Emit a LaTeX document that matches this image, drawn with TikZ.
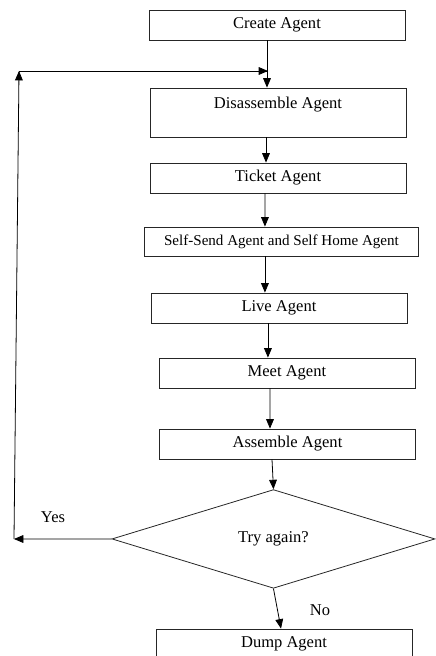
\documentclass[tikz,border=0pt]{standalone}
\usepackage{fontspec}
\setmainfont{Liberation Serif}
\usetikzlibrary{shapes.geometric, arrows}
\tikzstyle{process} = [rectangle, minimum width=192pt, minimum height=22.5pt, text centered, draw=black!85, line width=0.6pt, font=\fontsize{12.4}{14.5}\selectfont]
\tikzstyle{decision} = [diamond, aspect=3.3, minimum width=242.25pt, minimum height=74pt, inner sep=0pt, text centered, draw=black!85, line width=0.6pt, font=\fontsize{12.4}{14.5}\selectfont]
\tikzstyle{answer} = [font=\fontsize{12.4}{14.5}\selectfont]
\tikzstyle{arrow} = [line width=0.6pt,->,>=triangle 45]

\begin{document}
\begin{tikzpicture}[node distance=49pt]
\useasboundingbox (0,0) rectangle (326.25pt,-492pt);

\node (create) [process] at (207.75pt,-18.75pt) {Create Agent};
\node (disassemble) [process, below of=create, node distance=65.6pt, xshift=0.75pt, minimum height=36.75pt, align=center] {Disassemble Agent\\ \mbox{}};
\node (ticket) [process, below of=disassemble, node distance=49.1pt] {Ticket Agent};
\node (selfsend) [process, below of=ticket, node distance=47.6pt, xshift=2.6pt, minimum width=206pt, minimum height=21.75pt, font=\fontsize{11.3}{13.5}\selectfont] {Self-Send Agent and Self Home Agent};
\node (live) [process, below of=selfsend, node distance=49.9pt, xshift=-1.9pt] {Live Agent};
\node (meet) [process, below of=live, node distance=48.75pt, xshift=6pt] {Meet Agent};
\node (assemble) [process, below of=meet, node distance=53.25pt, xshift=0.4pt] {Assemble Agent};
\node (try) [decision, below of=assemble, node distance=71.25pt, xshift=-10.5pt] {Try again?};
\node (dump) [process, below of=try, node distance=78.75pt, xshift=7.9pt] {Dump Agent};

\node (yes) [answer] at (39.75pt,-387.75pt) {Yes};
\node (no) [answer] at (240pt,-457.5pt) {No};

\coordinate (yesturn) at (10.5pt,-404.25pt);
\coordinate (loopcorner) at (14.25pt,-53.25pt);
\coordinate (loopend) at (201pt,-53.25pt);

\draw [arrow] ([xshift=-7.5pt]create.south) -- ([xshift=-8.25pt]disassemble.north);
\draw [arrow] ([xshift=-9pt]disassemble.south) -- ([xshift=-9pt]ticket.north);
\draw [arrow] ([xshift=-9.75pt]ticket.south) -- ([xshift=-12.4pt]selfsend.north);
\draw [arrow] ([xshift=-12.4pt]selfsend.south) -- ([xshift=-10.5pt]live.north);
\draw [arrow] ([xshift=-8.25pt]live.south) -- ([xshift=-14.25pt]meet.north);
\draw [arrow] ([xshift=-12.75pt]meet.south) -- ([xshift=-13.1pt]assemble.north);
\draw [arrow] ([xshift=-11.6pt]assemble.south) -- (try.north);
\draw [arrow] (try.south) -- ([xshift=-2.25pt]dump.north);
\draw [arrow] (try.west) -- (yesturn);
\draw [arrow] (yesturn) -- (loopcorner);
\draw [arrow] (loopcorner) -- (loopend);

\end{tikzpicture}
\end{document}
